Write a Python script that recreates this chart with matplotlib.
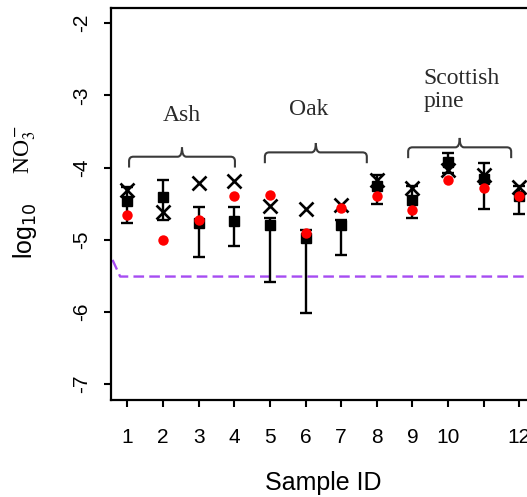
import numpy as np
import matplotlib
matplotlib.use("Agg")
import matplotlib.pyplot as plt
from matplotlib.path import Path
from matplotlib.patches import PathPatch

plt.rcParams['axes.unicode_minus'] = False
plt.rcParams['font.family'] = ['Liberation Sans', 'DejaVu Sans']

# --- data (log10 NO3- per sample) ---
samples = np.arange(1, 13)
xtick_labels = ["1", "2", "3", "4", "5", "6", "7", "8", "9", "10", "", "12"]
cross_vals = [-4.31, -4.62, -4.22, -4.19, -4.53, -4.58, -4.52, -4.17, -4.29, -4.04, -4.11, -4.27]
mean_vals = [-4.47, -4.41, -4.77, -4.74, -4.80, -4.97, -4.80, -4.25, -4.45, -3.93, -4.16, -4.40]
err_low = [-4.77, -4.73, -5.24, -5.09, -5.58, -6.02, -5.21, -4.50, -4.70, -4.08, -4.57, -4.65]
err_high = [-4.27, -4.17, -4.54, -4.54, -4.70, -4.87, -4.73, -4.11, -4.25, -3.80, -3.94, -4.25]
red_vals = [-4.66, -5.00, -4.72, -4.39, -4.38, -4.91, -4.56, -4.39, -4.59, -4.17, -4.28, -4.39]

limit_x = [0.4, 0.8, 13.5]
limit_y = [-5.08, -5.51, -5.51]

# groups: name, brace left/right, brace height, label pos, alignment
groups = [
    ("Ash", 1.05, 4.02, -3.85, 2.54, -3.28, 'center'),
    ("Oak", 4.86, 7.72, -3.79, 6.10, -3.20, 'center'),
    ("Scottish\npine", 8.88, 11.77, -3.72, 9.31, -2.93, 'left'),
]


def brace(ax, x0, x1, y0, drop=0.15, spike=0.13, rx=0.12, ry=0.06):
    xm = (x0 + x1) / 2
    verts = [
        (x0, y0 - drop), (x0, y0 - ry), (x0, y0), (x0 + rx, y0),
        (xm - rx, y0), (xm, y0), (xm, y0 + spike),
    ]
    codes = [Path.MOVETO, Path.LINETO, Path.CURVE3, Path.CURVE3,
             Path.LINETO, Path.CURVE3, Path.CURVE3]
    verts2 = [
        (xm, y0 + spike), (xm, y0), (xm + rx, y0),
        (x1 - rx, y0), (x1, y0), (x1, y0 - ry), (x1, y0 - drop),
    ]
    codes2 = [Path.MOVETO, Path.CURVE3, Path.CURVE3,
              Path.LINETO, Path.CURVE3, Path.CURVE3, Path.LINETO]
    for v, c in ((verts, codes), (verts2, codes2)):
        ax.add_patch(PathPatch(Path(v, c), fill=False, edgecolor='#3a3a3a',
                               lw=1.5, clip_on=False))


fig = plt.figure(figsize=(5.27, 4.97), dpi=100)
ax = fig.add_axes([111 / 527, 97 / 497, 449 / 527, 392 / 497])

ax.plot(limit_x, limit_y, color='#a64cf2', lw=1.7, linestyle=(0, (4.5, 2.2)), zorder=1)

mean = np.array(mean_vals)
yerr = [mean - np.array(err_low), np.array(err_high) - mean]
ax.errorbar(samples, mean, yerr=yerr, fmt='s', color='black', ms=7,
            ecolor='black', elinewidth=1.7, capsize=4, capthick=1.7, zorder=2)
ax.plot(samples, cross_vals, 'x', color='black', ms=9.5, mew=1.9, zorder=3)
ax.plot(samples, red_vals, 'o', color='#ff0000', ms=7.5, mec='none', zorder=4)

for name, x0, x1, y0, lx, ly, ha in groups:
    brace(ax, x0, x1, y0)
    ax.text(lx, ly, name, ha=ha, va='center', fontsize=17,
            family=['Liberation Serif', 'DejaVu Serif'], color='#2a2a2a',
            linespacing=1.15)

ax.set_xlim(0.543, 13.14)
ax.set_ylim(-7.22, -1.79)
ax.set_xticks(samples)
ax.set_xticklabels(xtick_labels, fontsize=15)
ax.set_yticks([-7, -6, -5, -4, -3, -2])
ax.set_yticklabels(["-7", "-6", "-5", "-4", "-3", "-2"], fontsize=15,
                   rotation=90, va='center')
ax.tick_params(axis='x', length=5, width=1.5, pad=15)
ax.tick_params(axis='y', length=5, width=1.5, pad=9)
for s in ax.spines.values():
    s.set_linewidth(1.6)

fig.text(323 / 527, 1 - 483 / 497, "Sample ID", ha='center', va='center', fontsize=18)
fig.text(25 / 527, 1 - 231 / 497, r"log$_{10}$", rotation=90, ha='center',
         va='center', fontsize=18)
fig.text(25 / 527, 1 - 149 / 497, r"NO$_3^-$", rotation=90, ha='center',
         va='center', fontsize=17, family=['Liberation Serif', 'DejaVu Serif'],
         math_fontfamily='stix')

fig.savefig("out.png", dpi=100)
